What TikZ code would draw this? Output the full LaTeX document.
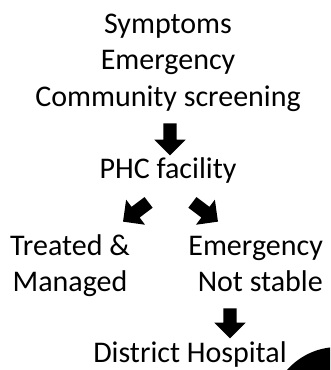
\documentclass[tikz,border=0pt]{standalone}
\usepackage{fontspec}
\setmainfont{Carlito}
\usetikzlibrary{shapes.arrows}

\tikzset{
  label text/.style={anchor=base, inner sep=0pt, font=\fontsize{30}{36}\selectfont},
  blockarrow/.style={single arrow, fill=black, draw=none, inner sep=6.5pt,
    minimum width=31pt, single arrow head extend=9pt, minimum height=32pt},
}

\begin{document}
\begin{tikzpicture}[x=1pt, y=-1pt]
  \useasboundingbox (0,0) rectangle (330,370);
  \clip (0,0) rectangle (330,370);

  % referral pathway text
  \node[label text] (sym)  at (168,33)  {Symptoms};
  \node[label text] (emg)  at (168,69.5)  {Emergency};
  \node[label text] (comm) at (168,106) {Community screening};
  \node[label text] (phc)  at (168,178) {PHC facility};
  \node[label text] (trt)  at (70,255)  {Treated \&};
  \node[label text] (mgd)  at (70,291.5)  {Managed};
  \node[label text, anchor=base east] (emg2) at (323,255) {Emergency};
  \node[label text, anchor=base east] (nst)  at (323,291.5) {Not stable};
  \node[label text] (dh)   at (190,362) {District Hospital};

  % block arrows between the stages
  \node[blockarrow, rotate=-90] (a1) at (170,136) {};
  \node[blockarrow, rotate=217] (a2) at (138.5,210) {};
  \node[blockarrow, rotate=-37]  (a3) at (202.5,210) {};
  \node[blockarrow, rotate=-90, minimum height=30pt] (a4) at (230,320) {};

  % corner disc
  \fill (338,415) circle (68);
\end{tikzpicture}
\end{document}
